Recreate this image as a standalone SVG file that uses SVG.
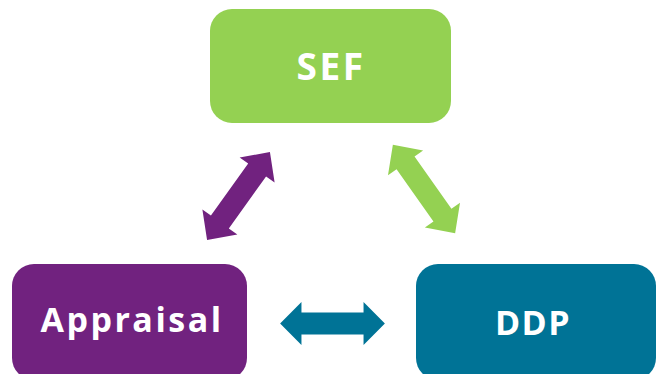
<svg xmlns="http://www.w3.org/2000/svg" width="659" height="374" viewBox="0 0 659 374">
<style>
.lbl{font-family:"Open Sans","Liberation Sans",sans-serif;font-weight:bold;fill:#ffffff;text-anchor:middle;letter-spacing:2.5px}
</style>
<defs>
<polygon id="dblarrow" points="-54,0 -32,-21.5 -32,-11 32,-11 32,-21.5 54,0 32,21.5 32,11 -32,11 -32,21.5"/>
</defs>
<rect width="659" height="374" fill="#ffffff"/>
<g id="sef">
<rect x="210" y="9" width="241" height="114" rx="22" fill="#94d152"/>
<text class="lbl" x="331" y="80" font-size="37">SEF</text>
</g>
<g id="appraisal">
<rect x="12" y="264" width="235" height="116" rx="22" fill="#71227f"/>
<text class="lbl" x="132" y="332" font-size="34">Appraisal</text>
</g>
<g id="ddp">
<rect x="416" y="264" width="240" height="116" rx="22" fill="#007396"/>
<text class="lbl" x="533" y="335" font-size="34" style="letter-spacing:1.5px">DDP</text>
</g>
<g id="connectors">
<use href="#dblarrow" fill="#71227f" transform="translate(238.5,196) rotate(-54.4)"/>
<use href="#dblarrow" fill="#94d152" transform="translate(424,189) rotate(54.8)"/>
<use href="#dblarrow" fill="#007396" transform="translate(332.5,323.5) scale(0.97,1)"/>
</g>
</svg>
